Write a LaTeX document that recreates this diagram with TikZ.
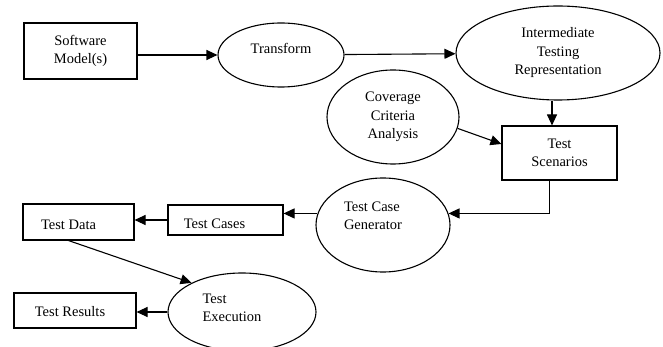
\documentclass[tikz,border=0pt]{standalone}
\usepackage{fontspec}
\setmainfont{Liberation Serif}
\usetikzlibrary{shapes.geometric,arrows.meta}

\tikzset{
  box/.style={rectangle,draw,line width=1.1pt,inner sep=0pt,align=center},
  proc/.style={ellipse,draw,line width=1.1pt,inner sep=0pt,align=center},
  arr/.style={-{Triangle[length=11pt,width=10pt]},line width=1.1pt},
  every label/.style={align=left}
}

\begin{document}
\begin{tikzpicture}[x=1pt,y=-1pt,font=\fontsize{14.5}{18.5}\selectfont]
\useasboundingbox (0,0) rectangle (663,347);

% upper part
\node[box,minimum width=113pt,minimum height=56pt] (sw) at (80.5,51) {Software\\Model(s)};
\node[proc,minimum width=126pt,minimum height=64pt,label={[yshift=7pt]center:Transform}] (tr) at (281,55) {};
\node[proc,minimum width=204pt,minimum height=94pt] (itr) at (558,53) {Intermediate\\Testing\\Representation};
\node[proc,minimum width=132pt,minimum height=94pt] (cov) at (393,117) {Coverage\\Criteria\\Analysis};
\node[box,minimum width=115pt,minimum height=54pt] (scen) at (559.5,153) {Test\\Scenarios};

% lower part
\node[proc,minimum width=134pt,minimum height=94pt,label={[xshift=-10pt,yshift=9pt]center:Test Case\\Generator}] (tcg) at (383,225) {};
\node[box,minimum width=115pt,minimum height=30pt,label={[xshift=-11pt,yshift=-4pt]center:Test Cases}] (tc) at (225.5,220) {};
\node[box,minimum width=111pt,minimum height=36pt,label={[xshift=-10pt,yshift=-3pt]center:Test Data}] (td) at (78.5,222) {};
\node[proc,minimum width=148pt,minimum height=78pt,label={[xshift=-10pt,yshift=4pt]center:Test\\Execution}] (te) at (242,312) {};
\node[box,minimum width=122pt,minimum height=35pt,label={[xshift=-5pt,yshift=-1pt]center:Test Results}] (res) at (75,310.5) {};

% connectors
\draw[arr] (sw.east |- tr.west) -- (tr.west);
\draw[arr] (tr) -- (itr);
\draw[arr] ([xshift=-6pt]itr.south) -- ([xshift=-6pt]itr.south |- scen.north);
\draw[arr] (cov.-10) -- ([yshift=9pt]scen.west);
\draw[arr] ([xshift=-10pt]scen.south) |- (tcg.10);
\draw[arr] (tcg.170) -- (tcg.170 -| tc.east);
\draw[arr] (tc.west) -- (tc.west -| td.east);
\draw[arr] ([xshift=-10pt]td.south) -- (te.150);
\draw[arr] (te.west) -- (te.west -| res.east);
\end{tikzpicture}
\end{document}
